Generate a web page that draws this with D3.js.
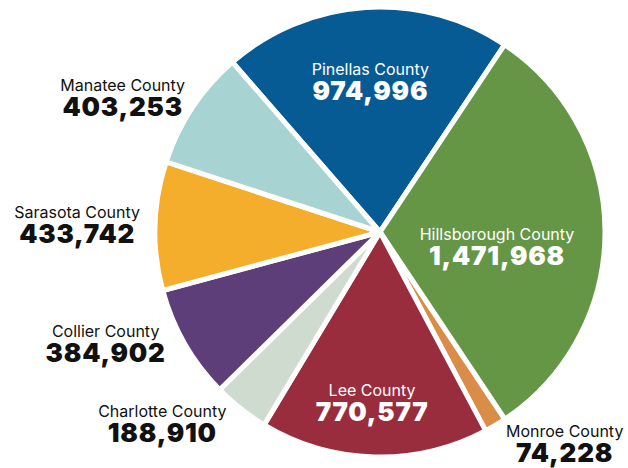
<!DOCTYPE html>
<html>
<head>
<meta charset="utf-8">
<script src="https://cdn.jsdelivr.net/npm/d3@7"></script>
<style>
  body { margin: 0; background: #fff; }
  svg { display: block; font-family: Inter, "Open Sans", sans-serif; }
  .name { font-weight: 400; }
  .value { font-weight: 900; letter-spacing: 0.8px; }
</style>
</head>
<body>
<div id="chart"></div>
<script>
// county populations, clockwise from the top
const counties = ['Pinellas County', 'Hillsborough County', 'Monroe County', 'Lee County',
  'Charlotte County', 'Collier County', 'Sarasota County', 'Manatee County'];
const populations = [974996, 1471968, 74228, 770577, 188910, 384902, 433742, 403253];
const colors = ['#075b94', '#659646', '#d98d48', '#992d3d', '#d0dbd0', '#5e3e78', '#f5ae2b', '#a7d4d2'];
const inside = [true, true, false, true, false, false, false, false];

const width = 628, height = 468;
const cx = 380, cy = 232, radius = 225;

// label placement: along the slice's mid angle, then nudged (layout only)
const labelRadius = { inside: 150, outside: 292 };
const nudges = {
  'Pinellas County': [0, -3],
  'Hillsborough County': [-33, 12],
  'Monroe County': [35, -42],
  'Lee County': [-4, 18],
  'Charlotte County': [-37, -40],
  'Collier County': [-21, -36],
  'Sarasota County': [-11, -2],
  'Manatee County': [-14, 24]
};

const data = counties.map((name, i) => ({ name, value: populations[i], color: colors[i], inside: inside[i] }));

const startAngle = -41 * Math.PI / 180;
const pie = d3.pie().sort(null).value(d => d.value)
  .startAngle(startAngle).endAngle(startAngle + 2 * Math.PI);
const arcs = pie(data);

const arc = d3.arc().innerRadius(0).outerRadius(radius);
const fmt = d3.format(',');

const svg = d3.select('#chart').append('svg').attr('width', width).attr('height', height);
const g = svg.append('g').attr('transform', `translate(${cx},${cy})`);

g.selectAll('path.slice').data(arcs).enter().append('path')
  .attr('class', 'slice')
  .attr('d', arc)
  .attr('fill', d => d.data.color)
  .attr('stroke', '#fff')
  .attr('stroke-width', 5)
  .attr('stroke-linejoin', 'round');

function labelPos(d) {
  const r = d.data.inside ? labelRadius.inside : labelRadius.outside;
  const a = (d.startAngle + d.endAngle) / 2;
  const n = nudges[d.data.name];
  return [Math.sin(a) * r + n[0], -Math.cos(a) * r + n[1]];
}

const labels = g.selectAll('g.label').data(arcs).enter().append('g')
  .attr('class', 'label')
  .attr('transform', d => `translate(${labelPos(d)})`)
  .attr('fill', d => d.data.inside ? '#fff' : '#111')
  .attr('text-anchor', 'middle');

labels.append('text').attr('class', 'name')
  .attr('y', -4).attr('font-size', 16)
  .text(d => d.data.name);
labels.append('text').attr('class', 'value')
  .attr('y', 21).attr('font-size', 26)
  .text(d => fmt(d.data.value));
</script>
</body>
</html>
